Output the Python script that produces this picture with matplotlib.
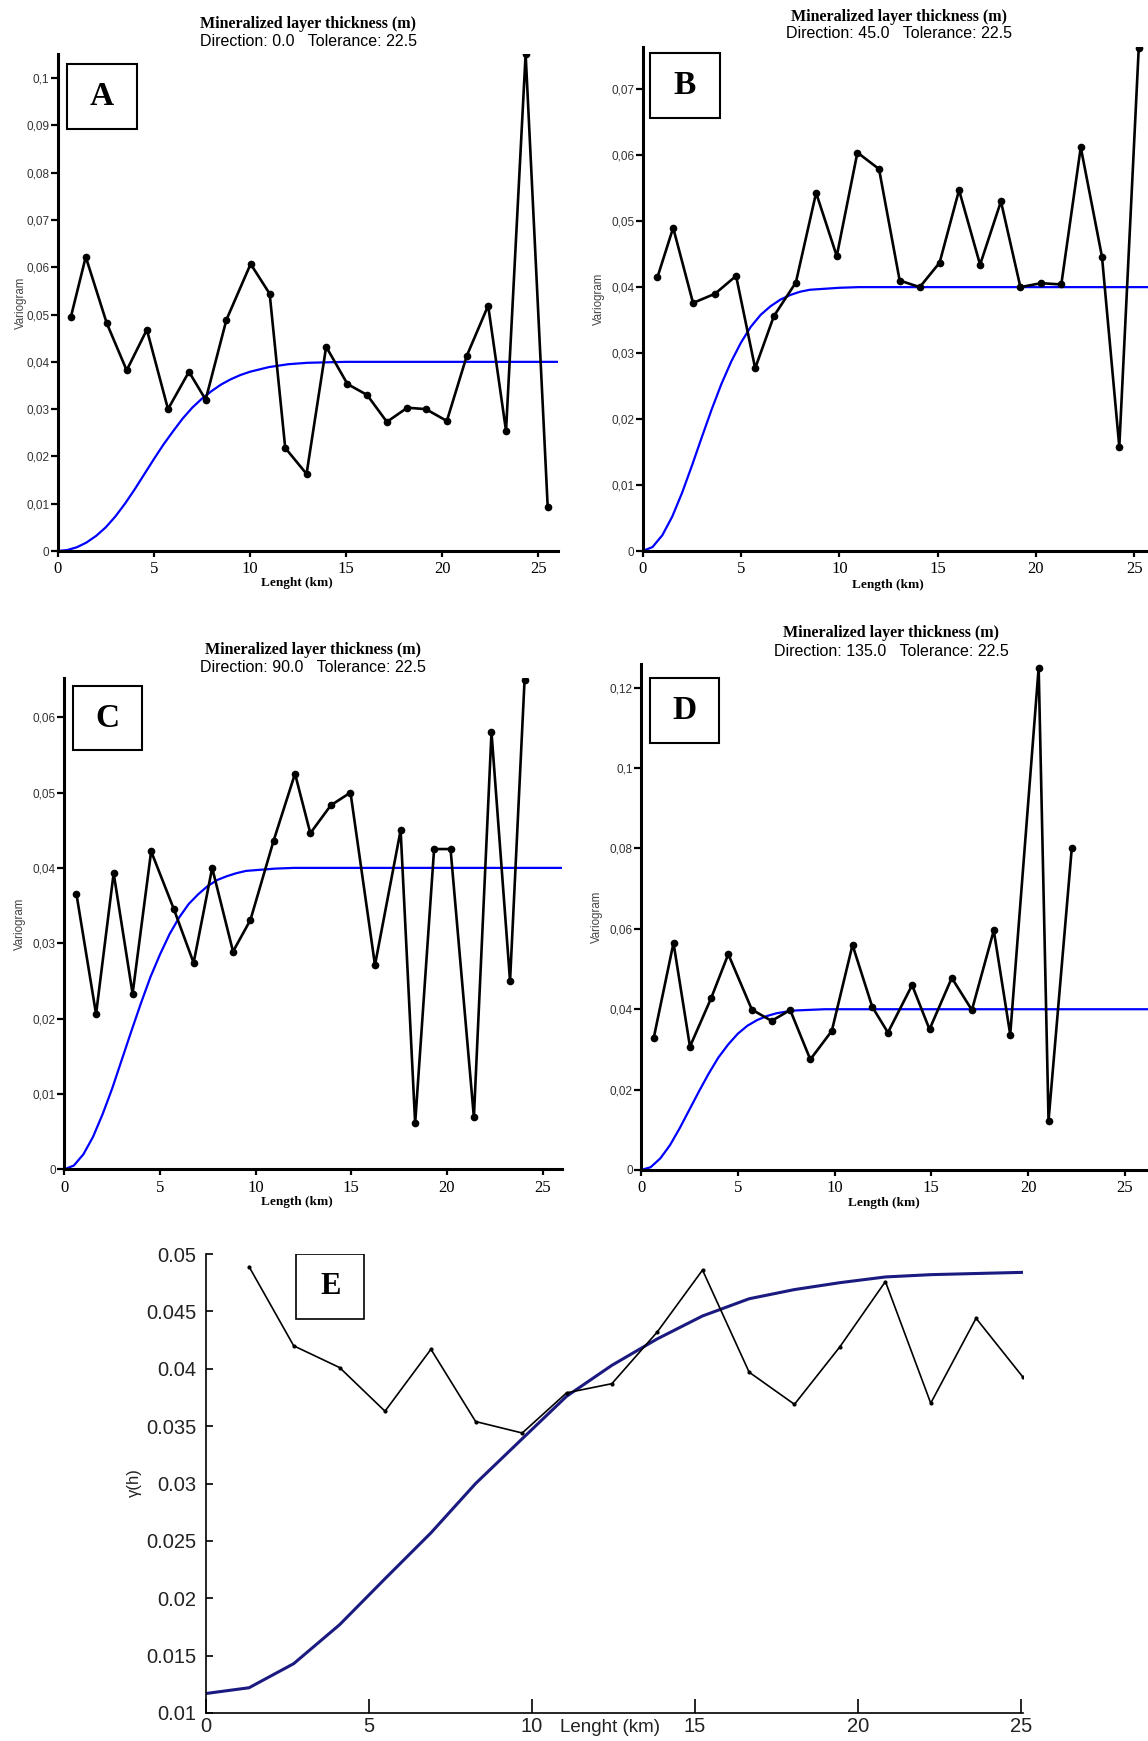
import matplotlib
matplotlib.use('Agg')
import matplotlib.pyplot as plt
from matplotlib.patches import Rectangle
from matplotlib.ticker import FuncFormatter

SERIF = 'Liberation Serif'
SANS = 'Liberation Sans'

# experimental variograms, panels A-D (lag km, gamma)
A_lag = [0.68, 1.46, 2.55, 3.59, 4.64, 5.74, 6.83, 7.70, 8.78, 10.04, 11.03, 11.84, 12.95,
         13.97, 15.08, 16.10, 17.13, 18.19, 19.16, 20.25, 21.29, 22.40, 23.33, 24.35, 25.50]
A_gam = [0.0494, 0.0622, 0.0482, 0.0382, 0.0468, 0.0300, 0.0379, 0.0320, 0.0489, 0.0607,
         0.0544, 0.0218, 0.0163, 0.0432, 0.0353, 0.0330, 0.0273, 0.0303, 0.0300, 0.0275,
         0.0413, 0.0519, 0.0254, 0.1051, 0.0092]

B_lag = [0.75, 1.55, 2.56, 3.68, 4.75, 5.72, 6.67, 7.79, 8.82, 9.87, 10.92, 12.02, 13.07,
         14.09, 15.10, 16.09, 17.16, 18.22, 19.21, 20.26, 21.29, 22.28, 23.36, 24.24, 25.23]
B_gam = [0.0415, 0.0490, 0.0376, 0.0390, 0.0417, 0.0277, 0.0356, 0.0407, 0.0543, 0.0447,
         0.0604, 0.0579, 0.0410, 0.0400, 0.0437, 0.0547, 0.0434, 0.0530, 0.0400, 0.0406,
         0.0404, 0.0612, 0.0446, 0.0158, 0.0763]

C_lag = [0.63, 1.66, 2.58, 3.57, 4.54, 5.73, 6.76, 7.73, 8.82, 9.73, 10.94, 12.06, 12.86,
         13.93, 14.96, 16.24, 17.58, 18.34, 19.33, 20.19, 21.41, 22.33, 23.30, 24.06]
C_gam = [0.0366, 0.0206, 0.0393, 0.0233, 0.0422, 0.0345, 0.0274, 0.0400, 0.0289, 0.0331,
         0.0436, 0.0525, 0.0446, 0.0483, 0.0500, 0.0271, 0.0450, 0.0061, 0.0425, 0.0425,
         0.0069, 0.0580, 0.0250, 0.0650]

D_lag = [0.66, 1.68, 2.53, 3.62, 4.51, 5.73, 6.75, 7.71, 8.75, 9.86, 10.93, 11.95, 12.76,
         14.01, 14.91, 16.06, 17.10, 18.23, 19.08, 20.55, 21.06, 22.26]
D_gam = [0.0329, 0.0565, 0.0307, 0.0427, 0.0537, 0.0399, 0.0371, 0.0398, 0.0275, 0.0346,
         0.0560, 0.0406, 0.0342, 0.0460, 0.0350, 0.0478, 0.0398, 0.0596, 0.0337, 0.1250,
         0.0123, 0.0800]

# fitted model curves (blue)
MODEL_H = [0, 0.5, 1, 1.5, 2, 2.5, 3, 3.5, 4, 4.5, 5, 5.5, 6, 6.5, 7, 7.5, 8, 8.5, 9, 9.5,
           10, 11, 12, 13, 14, 15, 27]
A_model = [0, .0002, .0008, .0018, .0032, .0050, .0073, .0100, .0130, .0162, .0194, .0225,
           .0253, .0280, .0303, .0322, .0338, .0352, .0363, .0372, .0379, .0389, .0395,
           .0398, .0399, .0400, .0400]
B_model = [0, .0006, .0024, .0052, .0088, .0129, .0172, .0214, .0253, .0287, .0316, .0340,
           .0358, .0371, .0381, .0388, .0393, .0396, .0397, .0398, .0399, .0400, .0400,
           .0400, .0400, .0400, .0400]
C_model = [0, .0005, .0020, .0043, .0073, .0107, .0145, .0183, .0220, .0255, .0285, .0312,
           .0334, .0352, .0365, .0376, .0384, .0389, .0393, .0396, .0397, .0399, .0400,
           .0400, .0400, .0400, .0400]
D_model = [0, .0007, .0029, .0062, .0104, .0150, .0196, .0240, .0280, .0312, .0339, .0359,
           .0373, .0383, .0390, .0394, .0397, .0398, .0399, .0400, .0400, .0400, .0400,
           .0400, .0400, .0400, .0400]

# panel E
E_lag = [1.32, 2.69, 4.10, 5.49, 6.90, 8.27, 9.70, 11.06, 12.45, 13.84, 15.23, 16.66,
         18.05, 19.44, 20.84, 22.23, 23.62, 25.05]
E_gam = [0.0489, 0.0420, 0.0401, 0.0363, 0.0417, 0.0354, 0.0344, 0.0379, 0.0387, 0.0432,
         0.0486, 0.0397, 0.0369, 0.0419, 0.0476, 0.0370, 0.0444, 0.0393]
E_model_h = [0] + E_lag
E_model = [0.0117, 0.0122, 0.0143, 0.0177, 0.0217, 0.0257, 0.0300, 0.0339, 0.0376, 0.0403,
           0.0426, 0.0446, 0.0461, 0.0469, 0.0475, 0.0480, 0.0482, 0.0483, 0.0484]

X_TICKS = [0, 5, 10, 15, 20, 25]
TITLE = 'Mineralized layer thickness (m)'
DIRECTIONS = ['Direction: 0.0   Tolerance: 22.5', 'Direction: 45.0   Tolerance: 22.5',
              'Direction: 90.0   Tolerance: 22.5', 'Direction: 135.0   Tolerance: 22.5']

W, H = 1148, 1741


def px_axes(x0, x1, ytop, ybot):
    return fig.add_axes([x0 / W, 1 - ybot / H, (x1 - x0) / W, (ybot - ytop) / H])


def comma_fmt(v, pos):
    return ('%g' % round(v, 4)).replace('.', ',')


def variogram_panel(ax, lag, gam, model, xmax, ytop, ystep, letter, box, xlabel, lab_xy, ylab_x):
    ax.plot(MODEL_H, model, color='#0000ff', lw=1.6, zorder=2)
    ax.plot(lag, gam, color='black', lw=1.9, marker='o', ms=4.5, zorder=3)
    ax.set_xlim(0, xmax)
    ax.set_ylim(0, ytop)
    ax.set_xticks(X_TICKS)
    yt = [i * ystep for i in range(int(ytop / ystep + 1e-6) + 1)]
    ax.set_yticks(yt)
    ax.yaxis.set_major_formatter(FuncFormatter(comma_fmt))
    for s in ['top', 'right']:
        ax.spines[s].set_visible(False)
    for s in ['left', 'bottom']:
        ax.spines[s].set_linewidth(2.2)
    ax.tick_params(axis='y', direction='out', length=5, width=1.6, pad=1,
                   labelsize=8.5, labelcolor='#333333')
    ax.tick_params(axis='x', direction='out', length=4.5, width=1.6, pad=3, labelsize=12)
    for t in ax.get_yticklabels():
        t.set_family(SANS)
    for t in ax.get_xticklabels():
        t.set_family(SERIF)
    ax.set_ylabel('Variogram', family=SANS, fontsize=8.3, color='#444444')
    ax.yaxis.set_label_coords(ylab_x, 0.5)
    ax.set_xlabel(xlabel, family=SERIF, fontweight='bold', fontsize=9.5)
    ax.xaxis.set_label_coords(lab_xy[0], lab_xy[1])
    ax.add_patch(Rectangle((box[0], box[1]), box[2] - box[0], box[3] - box[1],
                           transform=ax.transAxes, facecolor='white', edgecolor='black',
                           lw=1.5, zorder=5, clip_on=False))
    ax.text((box[0] + box[2]) / 2, (box[1] + box[3]) / 2, letter, transform=ax.transAxes,
            ha='center', va='center', family=SERIF, fontweight='bold', fontsize=24, zorder=6)


def titles(cx, y1, y2, direction):
    fig.text(cx / W, 1 - y1 / H, TITLE, ha='center', va='center', family=SERIF,
             fontweight='bold', fontsize=11.5)
    fig.text(cx / W, 1 - y2 / H, direction, ha='center', va='center', family=SANS,
             fontsize=11.5)


fig = plt.figure(figsize=(W / 100, H / 100), dpi=100)

axA = px_axes(57.7, 558.3, 54, 551)
variogram_panel(axA, A_lag, A_gam, A_model, 26.05, 0.1051, 0.01, 'A',
                (0.019, 0.849, 0.158, 0.980), 'Lenght (km)', (0.478, -0.052), -0.061)
titles(308, 24, 42, DIRECTIONS[0])

axB = px_axes(642.7, 1148, 47, 551)
variogram_panel(axB, B_lag, B_gam, B_model, 25.7, 0.0764, 0.01, 'B',
                (0.0145, 0.860, 0.152, 0.9875), 'Length (km)', (0.486, -0.056), -0.075)
titles(899, 17, 34, DIRECTIONS[1])

axC = px_axes(64.3, 561.7, 678, 1169.3)
variogram_panel(axC, C_lag, C_gam, C_model, 26.0, 0.0652, 0.01, 'C',
                (0.018, 0.854, 0.157, 0.983), 'Length (km)', (0.468, -0.054), -0.077)
titles(313, 650, 667, DIRECTIONS[2])

axD = px_axes(641, 1148, 664, 1170)
variogram_panel(axD, D_lag, D_gam, D_model, 26.2, 0.1259, 0.02, 'D',
                (0.017, 0.844, 0.154, 0.972), 'Length (km)', (0.479, -0.053), -0.075)
titles(891, 633, 651, DIRECTIONS[3])

# panel E
axE = px_axes(206, 1023, 1254, 1713)
axE.plot(E_model_h, E_model, color='#1a1a80', lw=2.2, zorder=2)
axE.plot(E_lag, E_gam, color='black', lw=1.2, marker='.', ms=4, zorder=3)
axE.set_xlim(0, 25.06)
axE.set_ylim(0.01, 0.05)
axE.set_xticks(X_TICKS)
axE.set_yticks([0.01, 0.015, 0.02, 0.025, 0.03, 0.035, 0.04, 0.045, 0.05])
axE.yaxis.set_major_formatter(FuncFormatter(lambda v, p: '%g' % round(v, 4)))
for s in ['top', 'right']:
    axE.spines[s].set_visible(False)
for s in ['left', 'bottom']:
    axE.spines[s].set_linewidth(1.2)
axE.tick_params(axis='x', direction='in', length=10, width=1.2, pad=3, labelsize=14.5,
                labelcolor='#222222')
axE.tick_params(axis='y', direction='in', length=5, width=1.2, pad=7, labelsize=14.5,
                labelcolor='#222222')
for t in axE.get_xticklabels() + axE.get_yticklabels():
    t.set_family(SANS)
axE.set_xlabel('Lenght (km)', family=SANS, fontsize=13.5, color='#222222')
axE.xaxis.set_label_coords(0.494, -0.014)
axE.set_ylabel('γ(h)', family=SANS, fontsize=12, color='#222222')
axE.yaxis.set_label_coords(-0.078, 0.503)
axE.add_patch(Rectangle((0.110, 0.858), 0.084, 0.142, transform=axE.transAxes,
                        facecolor='white', edgecolor='black', lw=1.2, zorder=5))
axE.text(0.152, 0.929, 'E', transform=axE.transAxes, ha='center', va='center',
         family=SERIF, fontweight='bold', fontsize=22, zorder=6)

fig.savefig('out.png', dpi=100)
